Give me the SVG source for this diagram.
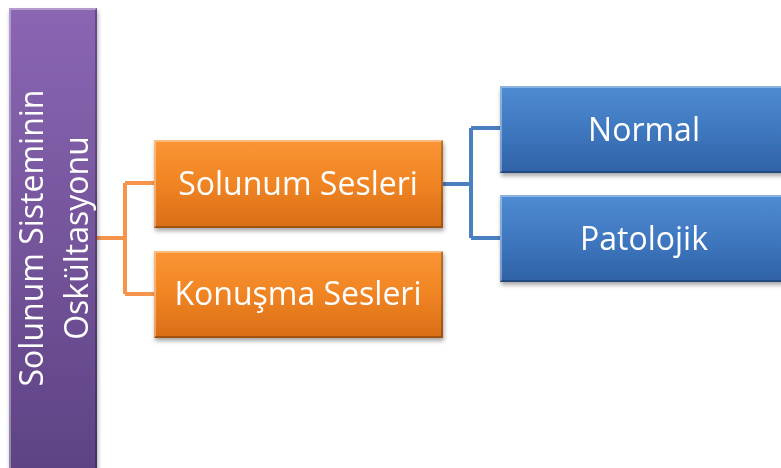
<svg xmlns="http://www.w3.org/2000/svg" width="781" height="468" viewBox="0 0 781 468">
<defs>
<linearGradient id="gp" x1="0" y1="0" x2="0" y2="1"><stop offset="0" stop-color="#8b66b3"/><stop offset="1" stop-color="#5e4384"/></linearGradient>
<linearGradient id="go" x1="0" y1="0" x2="0" y2="1"><stop offset="0" stop-color="#fa9535"/><stop offset="0.5" stop-color="#f08423"/><stop offset="1" stop-color="#d86d17"/></linearGradient>
<linearGradient id="gb" x1="0" y1="0" x2="0" y2="1"><stop offset="0" stop-color="#4f8cd2"/><stop offset="0.5" stop-color="#3f78c0"/><stop offset="1" stop-color="#2f62a6"/></linearGradient>
<filter id="sh" x="-10%" y="-10%" width="130%" height="130%"><feGaussianBlur in="SourceAlpha" stdDeviation="2"/><feOffset dx="1" dy="3"/><feComponentTransfer><feFuncA type="linear" slope="0.35"/></feComponentTransfer><feMerge><feMergeNode/><feMergeNode in="SourceGraphic"/></feMerge></filter>
</defs>
<style>
.t{font-family:"Open Sans","Noto Sans","Liberation Sans",sans-serif;fill:#ffffff;text-anchor:middle;font-size:32px}
.hl{fill:none;stroke:#ffffff;stroke-opacity:0.35;stroke-width:2}
.dk{fill:none;stroke:#000000;stroke-opacity:0.25;stroke-width:2}
.co{fill:none;stroke:#f5944a;stroke-width:4}
.cb{fill:none;stroke:#4a7fc0;stroke-width:4}
</style>
<rect width="781" height="468" fill="#ffffff"/>
<g id="connectors">
<path class="co" d="M97 238 H125 M125 183 V294 M125 183 H154 M125 294 H154"/>
<path class="cb" d="M443 184 H471 M471 128 V238 M471 128 H500 M471 238 H500"/>
</g>
<g id="root" filter="url(#sh)">
<rect x="9" y="8" width="88" height="462" fill="url(#gp)"/>
<path class="hl" d="M10 470 V9 H96"/>
<path class="dk" d="M96 9 V470"/>
<text class="t" transform="translate(53 238) rotate(-90)"><tspan x="0" y="-10">Solunum Sisteminin</tspan><tspan x="0" y="35">Oskültasyonu</tspan></text>
</g>
<g id="solunum" filter="url(#sh)">
<rect x="154" y="140" width="289" height="88" fill="url(#go)"/>
<path class="hl" d="M155 227 V141 H442"/>
<path class="dk" d="M155 227 H442 V141"/>
<text class="t" x="298" y="195">Solunum Sesleri</text>
</g>
<g id="konusma" filter="url(#sh)">
<rect x="154" y="251" width="289" height="87" fill="url(#go)"/>
<path class="hl" d="M155 337 V252 H442"/>
<path class="dk" d="M155 337 H442 V252"/>
<text class="t" x="298" y="305">Konuşma Sesleri</text>
</g>
<g id="normal" filter="url(#sh)">
<rect x="500" y="86" width="290" height="87" fill="url(#gb)"/>
<path class="hl" d="M501 172 V87 H790"/>
<path class="dk" d="M501 172 H790"/>
<text class="t" x="644" y="141">Normal</text>
</g>
<g id="patolojik" filter="url(#sh)">
<rect x="500" y="195" width="290" height="87" fill="url(#gb)"/>
<path class="hl" d="M501 281 V196 H790"/>
<path class="dk" d="M501 281 H790"/>
<text class="t" x="644" y="250">Patolojik</text>
</g>
</svg>
